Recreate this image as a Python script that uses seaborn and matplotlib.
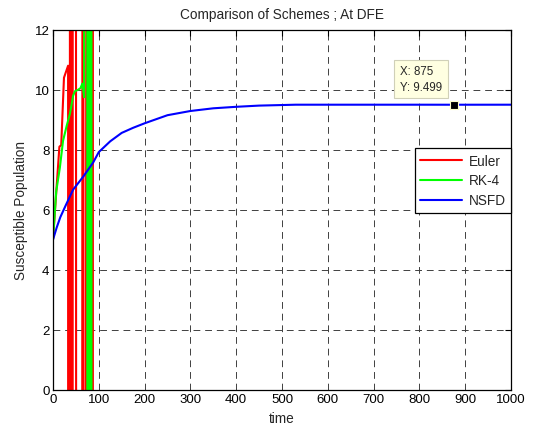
import matplotlib
matplotlib.use("Agg")
import matplotlib.pyplot as plt
import numpy as np
import pandas as pd
import seaborn as sns

# Euler blows up after t~33 (values go far off the axis)
euler_t = [0, 14, 18, 24, 33, 35.5, 38, 41, 45, 56, 65.5, 68, 76, 87, 90]
euler_y = [5.0, 8.1, 8.15, 10.4, 10.8, -400, 300, -300, 300, -300, 60, -70, 70, -20, 600]

# RK-4 also oscillates wildly after t~68
rk4_t = [0, 7, 15, 22, 30, 37, 44, 48, 55, 60, 64, 66, 68,
         73.5, 76.5, 78.5, 81.5, 83.5, 84.5]
rk4_y = [5.0, 6.6, 7.4, 8.3, 8.8, 9.2, 9.8, 9.95, 10.0, 10.05, 10.2, 10.0, 9.75,
         300, -300, 300, -300, 300, -300]

# NSFD converges smoothly to the DFE
nsfd_t = [0, 8, 16, 28, 44, 66, 88, 100, 125, 150, 175, 200, 250, 300, 350,
          400, 450, 530, 600, 700, 800, 875, 1000]
nsfd_y = [5.0, 5.4, 5.75, 6.15, 6.67, 7.1, 7.58, 7.92, 8.28, 8.56, 8.73, 8.88, 9.15,
          9.29, 9.38, 9.43, 9.47, 9.5, 9.5, 9.5, 9.5, 9.499, 9.5]

tip_x, tip_y = 875, 9.499

sns.set_theme(style="white")
plt.rcParams['font.family'] = ['Liberation Sans', 'DejaVu Sans']

fig = plt.figure(figsize=(5.33, 4.27), dpi=100)
ax = fig.add_axes([0.0994, 0.085, 0.8593, 0.8431])

series = [
    ("Euler", euler_t, euler_y, "#ff0000"),
    ("RK-4", rk4_t, rk4_y, "#00ff00"),
    ("NSFD", nsfd_t, nsfd_y, "#0000ff"),
]
for name, t, y, col in series:
    df = pd.DataFrame({"time": t, "S": y})
    sns.lineplot(data=df, x="time", y="S", sort=False, estimator=None,
                 color=col, linewidth=1.5, label=name, ax=ax)

# data tip
ax.plot(tip_x, tip_y, marker="s", color="black", markersize=6,
        markeredgecolor="#ffffc8", markeredgewidth=0.8, zorder=6)
ax.text(757, 10.81, f"X: {tip_x}\nY: {tip_y}", fontsize=8.3, linespacing=1.35,
        va="top", ha="left", zorder=7,
        bbox=dict(boxstyle="square,pad=0.5", fc="#ffffe1", ec="#d0d0b8", lw=0.8))

ax.set_xlim(0, 1000)
ax.set_ylim(0, 12)
ax.set_xticks(np.arange(0, 1001, 100))
ax.set_yticks(np.arange(0, 13, 2))
ax.tick_params(direction="in", length=4, width=0.8, top=True, right=True,
               labelsize=9.5, colors="black", pad=2.5)
for s in ax.spines.values():
    s.set_color("black")
    s.set_linewidth(0.9)
ax.grid(True, color="0.25", linestyle=(0, (7, 5)), linewidth=0.7)

ax.set_title("Comparison of Schemes ; At DFE", fontsize=9.8, pad=8.5)
ax.set_xlabel("time", fontsize=9.8, labelpad=4)
ax.set_ylabel("Susceptible Population", fontsize=9.8, labelpad=4.5)

leg = ax.legend(loc="upper right", bbox_to_anchor=(1.0, 0.671), borderaxespad=0,
                fontsize=9.8, fancybox=False, framealpha=1, edgecolor="black",
                handlelength=3.1, handletextpad=0.45, labelspacing=0.43,
                borderpad=0.4)
leg.get_frame().set_linewidth(0.9)

fig.savefig("out.png", dpi=100, facecolor="white")
